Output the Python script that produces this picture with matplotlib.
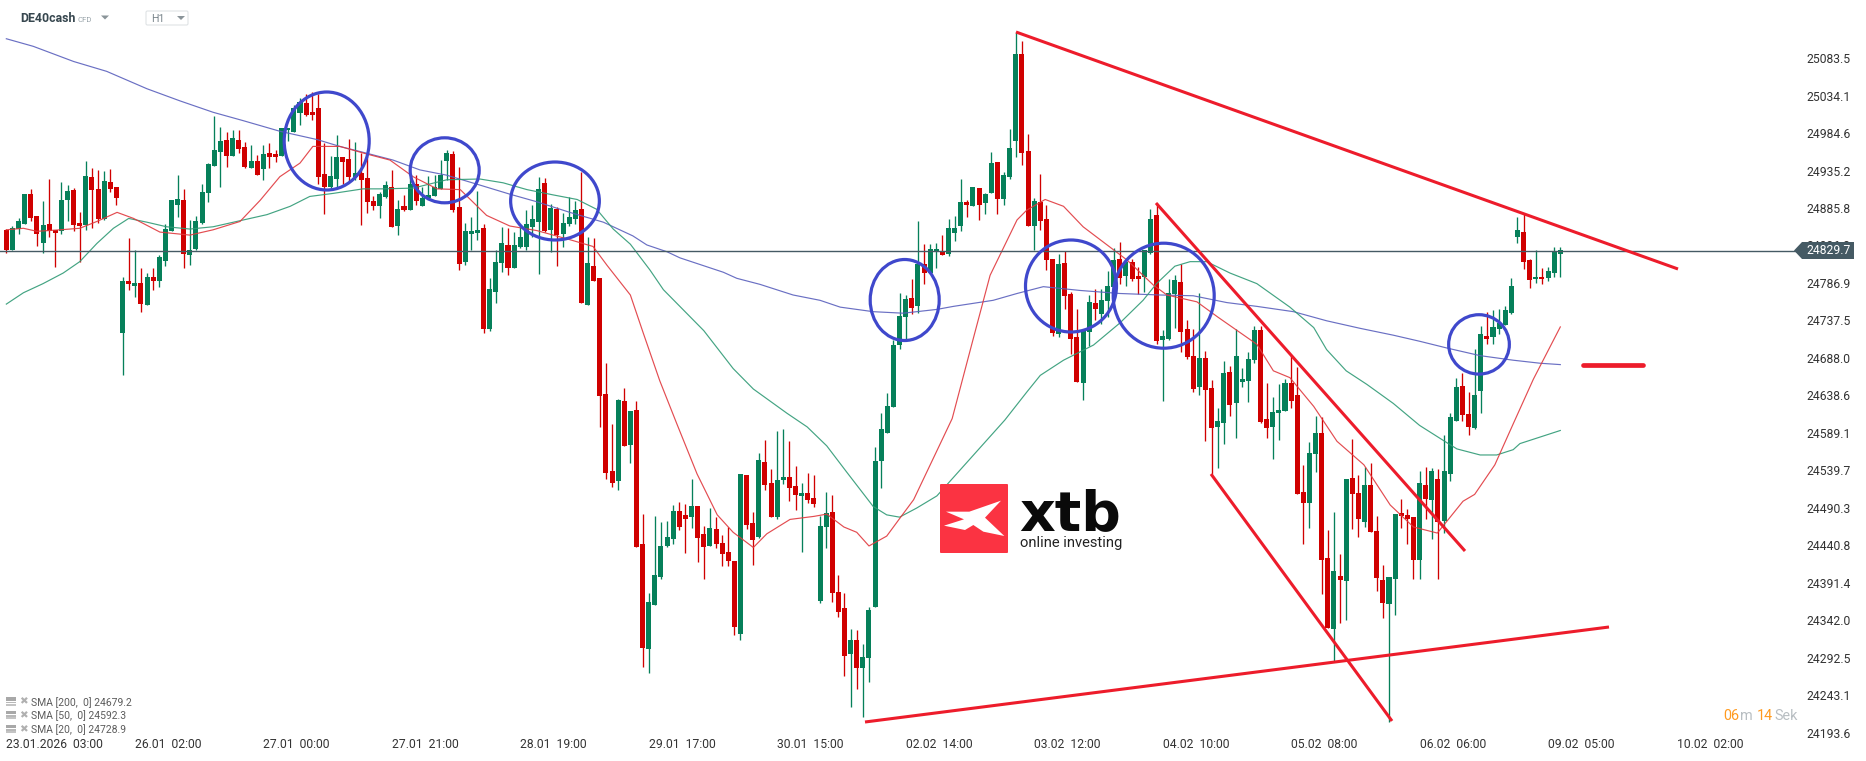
import numpy as np
import matplotlib
matplotlib.use("Agg")
import matplotlib.pyplot as plt
from matplotlib.patches import Ellipse, Polygon, Rectangle, FancyBboxPatch

plt.rcParams["font.family"] = ["Roboto", "DejaVu Sans"]

opens = [
    24857, 24830, 24858, 24865, 24904, 24875, 24839, 24865, 24857, 24855,
    24896, 24910, 24866, 24863, 24927, 24911, 24871, 24920, 24914, 24721,
    24790, 24783, 24787, 24758, 24795, 24790, 24816, 24855, 24890, 24896,
    24824, 24832, 24866, 24906, 24941, 24960, 24976, 24955, 24976, 24966,
    24939, 24948, 24937, 24958, 24957, 24955, 24988, 24986, 25011, 25024,
    25013, 25017, 24931, 24914, 24924, 24953, 24951, 24927, 24932, 24925,
    24895, 24889, 24900, 24914, 24862, 24889, 24883, 24918, 24889, 24899,
    24902, 24911, 24948, 24957, 24887, 24815, 24852, 24853, 24860, 24726,
    24775, 24813, 24837, 24807, 24834, 24834, 24861, 24867, 24919, 24857,
    24885, 24852, 24865, 24871, 24885, 24758, 24809, 24794, 24641, 24539,
    24526, 24631, 24573, 24619, 24443, 24304, 24362, 24399, 24440, 24449,
    24486, 24481, 24478, 24493, 24456, 24440, 24463, 24444, 24432, 24420,
    24324, 24533, 24470, 24452, 24551, 24523, 24478, 24527, 24531, 24519,
    24506, 24510, 24503, 24367, 24465, 24485, 24379, 24358, 24298, 24316,
    24279, 24292, 24359, 24552, 24589, 24623, 24705, 24742, 24767, 24757,
    24812, 24800, 24828, 24829, 24825, 24853, 24862, 24894, 24889, 24912,
    24892, 24906, 24947, 24898, 24927, 24974, 25089, 24961, 24862, 24894,
    24871, 24819, 24720, 24813, 24772, 24716, 24655, 24722, 24760, 24746,
    24763, 24782, 24819, 24796, 24815, 24796, 24795, 24826, 24877, 24712,
    24713, 24772, 24788, 24726, 24691, 24650, 24688, 24648, 24597, 24602,
    24670, 24628, 24656, 24658, 24685, 24725, 24607, 24597, 24616, 24618,
    24655, 24639, 24511, 24497, 24561, 24589, 24424, 24331, 24401, 24394,
    24530, 24510, 24472, 24520, 24460, 24395, 24364, 24396, 24483, 24481,
    24478, 24422, 24520, 24501, 24528, 24473, 24535, 24605, 24651, 24614,
    24596, 24645, 24717, 24715, 24726, 24731, 24747, 24848, 24854, 24817,
    24792, 24795, 24794, 24800, 24825,
]
closes = [
    24830, 24860, 24869, 24904, 24873, 24851, 24863, 24855, 24853, 24896,
    24908, 24863, 24862, 24928, 24909, 24871, 24922, 24911, 24899, 24790,
    24786, 24787, 24759, 24795, 24790, 24821, 24858, 24896, 24898, 24825,
    24831, 24869, 24907, 24944, 24962, 24974, 24955, 24978, 24964, 24940,
    24948, 24929, 24957, 24953, 24953, 24991, 24991, 25017, 25026, 25009,
    25009, 24927, 24914, 24928, 24953, 24947, 24927, 24932, 24923, 24894,
    24889, 24904, 24916, 24861, 24885, 24883, 24918, 24895, 24899, 24903,
    24914, 24929, 24958, 24883, 24812, 24856, 24856, 24857, 24726, 24779,
    24815, 24840, 24807, 24837, 24848, 24865, 24871, 24911, 24856, 24886,
    24850, 24866, 24874, 24883, 24760, 24813, 24790, 24638, 24536, 24523,
    24633, 24572, 24618, 24438, 24305, 24366, 24402, 24440, 24452, 24486,
    24465, 24476, 24493, 24451, 24438, 24464, 24443, 24429, 24420, 24333,
    24535, 24468, 24448, 24553, 24520, 24478, 24527, 24531, 24517, 24507,
    24510, 24501, 24495, 24466, 24483, 24378, 24353, 24295, 24316, 24279,
    24294, 24356, 24552, 24594, 24625, 24705, 24743, 24766, 24754, 24812,
    24800, 24832, 24832, 24824, 24859, 24859, 24894, 24890, 24914, 24890,
    24904, 24945, 24898, 24929, 24965, 25089, 24958, 24862, 24895, 24869,
    24817, 24721, 24812, 24770, 24713, 24656, 24724, 24762, 24753, 24764,
    24783, 24817, 24793, 24815, 24792, 24792, 24830, 24871, 24710, 24717,
    24773, 24791, 24722, 24689, 24647, 24688, 24646, 24596, 24605, 24668,
    24626, 24691, 24660, 24686, 24725, 24603, 24595, 24617, 24619, 24655,
    24631, 24508, 24497, 24562, 24589, 24422, 24332, 24407, 24395, 24528,
    24508, 24476, 24520, 24459, 24398, 24365, 24399, 24482, 24479, 24476,
    24421, 24523, 24502, 24539, 24472, 24539, 24610, 24650, 24613, 24597,
    24639, 24720, 24713, 24729, 24734, 24751, 24783, 24857, 24814, 24791,
    24795, 24792, 24803, 24828, 24830,
]
highs = [
    24858, 24862, 24872, 24904, 24911, 24875, 24895, 24924, 24857, 24920,
    24916, 24912, 24881, 24948, 24938, 24936, 24935, 24937, 24914, 24795,
    24846, 24830, 24807, 24800, 24806, 24824, 24865, 24896, 24929, 24911,
    24870, 24875, 24918, 24945, 25007, 24993, 24986, 24989, 24989, 24973,
    24969, 24956, 24969, 24971, 24962, 24991, 24991, 25021, 25031, 25036,
    25039, 25036, 24971, 24954, 24982, 24953, 24977, 24973, 24958, 24954,
    24901, 24907, 24922, 24936, 24896, 24903, 24927, 24929, 24914, 24928,
    24929, 24949, 24962, 24961, 24940, 24866, 24874, 24908, 24865, 24793,
    24830, 24861, 24859, 24854, 24861, 24883, 24890, 24927, 24925, 24891,
    24887, 24879, 24900, 24895, 24933, 24848, 24846, 24794, 24681, 24601,
    24634, 24648, 24618, 24631, 24482, 24378, 24479, 24472, 24473, 24494,
    24498, 24495, 24528, 24493, 24466, 24490, 24478, 24454, 24465, 24420,
    24535, 24533, 24485, 24562, 24580, 24541, 24592, 24594, 24578, 24546,
    24523, 24536, 24534, 24479, 24511, 24507, 24402, 24378, 24331, 24329,
    24311, 24359, 24571, 24616, 24642, 24712, 24774, 24771, 24792, 24869,
    24838, 24838, 24839, 24850, 24871, 24875, 24924, 24896, 24914, 24912,
    24906, 24960, 24947, 24933, 24990, 25118, 25106, 24984, 24899, 24931,
    24890, 24819, 24825, 24829, 24775, 24753, 24724, 24771, 24779, 24779,
    24803, 24833, 24841, 24817, 24819, 24808, 24830, 24885, 24892, 24725,
    24792, 24798, 24812, 24738, 24726, 24773, 24697, 24659, 24622, 24684,
    24678, 24726, 24675, 24696, 24730, 24730, 24655, 24637, 24654, 24660,
    24692, 24676, 24547, 24577, 24612, 24610, 24461, 24485, 24429, 24528,
    24581, 24533, 24544, 24550, 24480, 24415, 24399, 24482, 24502, 24489,
    24478, 24539, 24544, 24543, 24542, 24586, 24616, 24661, 24668, 24643,
    24700, 24730, 24749, 24751, 24752, 24757, 24794, 24874, 24878, 24818,
    24830, 24807, 24808, 24834, 24834,
]
lows = [
    24826, 24830, 24852, 24865, 24868, 24835, 24826, 24848, 24808, 24852,
    24868, 24855, 24815, 24857, 24860, 24866, 24870, 24907, 24890, 24665,
    24778, 24768, 24749, 24758, 24778, 24781, 24809, 24855, 24874, 24806,
    24811, 24830, 24865, 24894, 24941, 24914, 24940, 24954, 24958, 24939,
    24939, 24929, 24923, 24938, 24946, 24954, 24974, 24986, 24995, 25007,
    25002, 24918, 24878, 24912, 24912, 24918, 24921, 24923, 24863, 24879,
    24883, 24873, 24899, 24861, 24850, 24882, 24883, 24890, 24889, 24899,
    24901, 24911, 24923, 24881, 24804, 24811, 24830, 24844, 24721, 24724,
    24761, 24801, 24798, 24807, 24833, 24830, 24848, 24799, 24854, 24828,
    24809, 24834, 24862, 24865, 24760, 24758, 24790, 24597, 24528, 24518,
    24514, 24572, 24549, 24438, 24280, 24273, 24362, 24396, 24438, 24443,
    24461, 24431, 24464, 24419, 24397, 24440, 24437, 24414, 24414, 24322,
    24316, 24462, 24415, 24451, 24514, 24478, 24475, 24522, 24499, 24488,
    24432, 24497, 24492, 24365, 24437, 24366, 24346, 24269, 24228, 24251,
    24215, 24260, 24359, 24517, 24589, 24623, 24700, 24711, 24746, 24747,
    24786, 24800, 24806, 24824, 24822, 24842, 24855, 24874, 24889, 24870,
    24878, 24906, 24878, 24890, 24924, 24953, 24943, 24862, 24830, 24857,
    24804, 24717, 24715, 24752, 24693, 24656, 24632, 24704, 24738, 24733,
    24742, 24769, 24786, 24783, 24789, 24772, 24775, 24825, 24707, 24631,
    24712, 24727, 24696, 24687, 24643, 24639, 24578, 24535, 24543, 24574,
    24612, 24583, 24650, 24630, 24681, 24602, 24582, 24555, 24580, 24618,
    24622, 24508, 24443, 24464, 24537, 24377, 24332, 24288, 24338, 24342,
    24463, 24452, 24465, 24458, 24380, 24345, 24208, 24349, 24464, 24442,
    24396, 24397, 24476, 24449, 24397, 24457, 24526, 24605, 24605, 24587,
    24594, 24616, 24706, 24707, 24719, 24731, 24746, 24840, 24805, 24780,
    24787, 24786, 24790, 24795, 24795,
]

# moving averages at these candle positions
sma200_pos = [0, 4.4, 11, 16.4, 23, 28.4, 33.8, 38.7, 44.7, 50.8, 54.5, 58.9, 63.2, 67.6, 72, 77.4,
              82.3, 86.7, 92.1, 97.6, 102.4, 104.7, 108, 110.1, 117.2, 119.4, 123.2, 128.6, 133, 136.3,
              141.7, 146.6, 152.1, 154.8, 161.3, 165.2, 169.5, 175.5, 182, 188.6, 194, 199.5, 204.4,
              210.4, 215.8, 221.3, 226.7, 231, 235.5, 240.9, 246.3, 250.7, 254]
sma200_val = [25109, 25099, 25079, 25066, 25043, 25027, 25012, 25001, 24987, 24976, 24967, 24958, 24949, 24936, 24929, 24916,
              24904, 24894, 24880, 24867, 24849, 24837, 24828, 24820, 24801, 24793, 24785, 24771, 24764, 24755,
              24749, 24747, 24752, 24756, 24764, 24773, 24782, 24777, 24773, 24771, 24770, 24761, 24756,
              24749, 24737, 24727, 24718, 24710, 24701, 24691, 24685, 24681, 24679.2]

sma50_pos = [0, 2.8, 6, 9.3, 12, 14.8, 17.5, 20, 23, 26.2, 30, 33.8, 38.2, 42.6, 46.4, 49.6, 53.4, 58.3, 61.6, 66.5,
             72, 77.4, 81.2, 85.1, 89.4, 93.3, 96.5, 99.2, 102, 105.2, 107.4, 114, 118.8, 122.1, 127.6, 130.9,
             134.1, 137.4, 141.7, 143.9, 146, 148.8, 152.1, 163.2, 166.8, 169, 172.8, 177.7, 182, 185.8, 188,
             191, 193.5, 196.2, 200, 204.4, 209.8, 213.7, 215.8, 219, 222.4, 226.7, 231, 235.5, 237.1, 240.9,
             243.6, 246.3, 247.4, 254]
sma50_val = [24759, 24774, 24786, 24800, 24815, 24839, 24859, 24872, 24867, 24861, 24858, 24861, 24869, 24877, 24888, 24901, 24905, 24911, 24911, 24912,
             24923, 24924, 24919, 24910, 24903, 24897, 24884, 24858, 24838, 24804, 24778, 24724, 24674, 24647, 24615, 24597,
             24572, 24537, 24492, 24481, 24478, 24490, 24506, 24606, 24643, 24665, 24685, 24705, 24734, 24764, 24786,
             24809, 24815, 24815, 24800, 24786, 24755, 24728, 24699, 24671, 24653, 24628, 24599, 24576, 24568, 24560,
             24560, 24567, 24575, 24592.3]

sma20_pos = [0, 2.8, 5, 8.8, 12, 14.8, 18.1, 20.8, 25.1, 30, 33.8, 38.2, 41.5, 44.7, 48, 50.1, 54.5, 58.9, 62.7, 66.5,
             70.4, 74.2, 78.5, 82.3, 86.7, 92.1, 95.9, 98.2, 102, 104.1, 106.8, 109.6, 112.9, 116.2, 118.8, 122.1,
             124.3, 128.1, 132, 134.1, 136.9, 139, 141, 143.9, 146, 148.3, 152.6, 154.6, 158, 160.8, 165.2, 166.8,
             169.8, 172.8, 176, 183.2, 187.5, 189.7, 194.6, 198, 204.4, 207.1, 209.8, 213.7, 217.5, 221.9, 226.2,
             230, 233.9, 238.1, 240, 243.3, 246.3, 249.6, 254]
sma20_val = [24857, 24859, 24855, 24857, 24859, 24868, 24880, 24872, 24854, 24850, 24857, 24868, 24896, 24927, 24945, 24967, 24967, 24957, 24949, 24927,
             24911, 24910, 24876, 24862, 24856, 24844, 24835, 24810, 24771, 24721, 24658, 24601, 24535, 24481, 24458, 24438,
             24456, 24475, 24479, 24482, 24465, 24458, 24440, 24453, 24476, 24501, 24574, 24608, 24712, 24797, 24870, 24883,
             24897, 24888, 24861, 24817, 24784, 24771, 24762, 24742, 24706, 24671, 24662, 24624, 24578, 24547, 24494,
             24465, 24457, 24499, 24508, 24547, 24601, 24660, 24728.9]

last_price = 24829.7
price_ticks = [25083.5, 25034.1, 24984.6, 24935.2, 24885.8, 24836.3, 24786.9, 24737.5, 24688.0, 24638.6,
               24589.1, 24539.7, 24490.3, 24440.8, 24391.4, 24342.0, 24292.5, 24243.1, 24193.6]
time_labels = ["23.01.2026  03:00", "26.01  02:00", "27.01  00:00", "27.01  21:00", "28.01  19:00",
               "29.01  17:00", "30.01  15:00", "02.02  14:00", "03.02  12:00", "04.02  10:00",
               "05.02  08:00", "06.02  06:00", "09.02  05:00", "10.02  02:00"]
legend_labels = ["SMA [200,  0] 24679.2", "SMA [50,  0] 24592.3", "SMA [20,  0] 24728.9"]

W, H = 1866, 761
RED = "#d00000"
GREEN = "#06805a"
LINE_RED = "#ed1c2b"
CIRCLE = "#3f48cc"
TAG = "#455a64"

fig = plt.figure(figsize=(W / 100, H / 100), dpi=100, facecolor="white")

# price axes, the plot area stops at x=1800 and y=735
ax = fig.add_axes([0, 1 - 735 / H, 1800 / W, 735 / H])
ax.set_xlim(-6.33 / 6.118, (1800 - 6.33) / 6.118)
ax.set_ylim(24829.7 + (250.5 - 735) * 1.319, 24829.7 + 250.5 * 1.319)

o = np.array(opens, dtype=float)
c = np.array(closes, dtype=float)
hi = np.array(highs, dtype=float)
lo = np.array(lows, dtype=float)
x = np.arange(len(o))
cols = np.where(c >= o, GREEN, RED)

ax.vlines(x, lo, hi, colors=cols, linewidth=0.95, zorder=2)
ax.bar(x, np.abs(c - o), bottom=np.minimum(o, c), width=0.82, color=cols, linewidth=0, zorder=3)

ax.plot(sma200_pos, sma200_val, color="#5a60bd", lw=0.85, alpha=0.9, zorder=4)
ax.plot(sma50_pos, sma50_val, color="#2f9a75", lw=0.85, alpha=0.9, zorder=4)
ax.plot(sma20_pos, sma20_val, color="#e0393e", lw=0.85, alpha=0.9, zorder=4)
ax.axhline(last_price, color=TAG, lw=1.0, zorder=5)

for s in ax.spines.values():
    s.set_visible(False)
ax.yaxis.tick_right()
ax.set_yticks(price_ticks)
ax.set_yticklabels([f"{p:.1f}" for p in price_ticks], fontsize=8.7, color="#333333")
ax.tick_params(axis="y", length=0, pad=4.3)
ax.set_xticks(np.arange(len(time_labels)) * 21)
ax.set_xticklabels(time_labels, fontsize=8.7, color="#333333", ha="left")
ax.tick_params(axis="x", length=0, pad=2.2)

# overlay in pixel coordinates for drawings, logo and header
ov = fig.add_axes([0, 0, 1, 1], facecolor="none")
ov.set_xlim(0, W)
ov.set_ylim(H, 0)
ov.axis("off")

trend_lines = [
    ((1016, 32), (1678, 269)),
    ((865, 722), (1609, 627)),
    ((1156, 203), (1465, 551)),
    ((1211, 474), (1392, 721)),
]
for a, b in trend_lines:
    ov.plot([a[0], b[0]], [a[1], b[1]], color=LINE_RED, lw=2.2, solid_capstyle="butt", zorder=6)
ov.plot([1583, 1643], [365, 365], color=LINE_RED, lw=3.4, solid_capstyle="round", zorder=6)

circles = [
    (326.7, 141, 85, 98), (444.7, 170.3, 69, 65), (555, 201, 88.7, 78), (904.7, 300, 69, 81),
    (1071, 286, 91, 92), (1163.7, 295.7, 101, 105), (1479, 344.4, 60.7, 59.4),
]
for cx, cy, w, h in circles:
    ov.add_patch(Ellipse((cx, cy), w, h, fill=False, ec=CIRCLE, lw=2.3, zorder=7))

# last price tag
ov.add_patch(Polygon([(1794, 250.5), (1802, 242), (1854, 242), (1854, 259), (1802, 259)], closed=True,
                     fc=TAG, ec="none", zorder=8))
ov.text(1806, 251, f"{last_price:.1f}", color="white", fontsize=8.7, va="center", ha="left", zorder=9)

# header
ov.text(20, 19, "DE40cash", fontsize=8.9, fontweight="bold", color="#37474f", va="center")
ov.text(78, 19.5, "CFD", fontsize=5.6, color="#9aa5ab", va="center")
ov.add_patch(Polygon([(101, 15.5), (109, 15.5), (105, 19.5)], closed=True, fc="#8a9499", ec="none"))
ov.add_patch(FancyBboxPatch((146, 11), 42, 14, boxstyle="round,pad=0,rounding_size=1.5", fc="white", ec="#dfe3e5", lw=0.8))
ov.text(151, 19.5, "H1", fontsize=7.6, color="#78848a", va="center")
ov.add_patch(Polygon([(177, 16), (185, 16), (181, 20)], closed=True, fc="#8a9499", ec="none"))

# indicator legend
for ly, label in zip([701.7, 715, 729], legend_labels):
    ov.add_patch(Rectangle((6, ly - 4.5), 10, 3.5, fc="#a8a8a8", ec="none"))
    ov.add_patch(Rectangle((6, ly), 10, 1.6, fc="#b8b8b8", ec="none"))
    ov.add_patch(Rectangle((6, ly + 2.4), 10, 1.4, fc="#c4c4c4", ec="none"))
    ov.text(23, ly, "\u2716", fontsize=7.5, color="#b0b0b0", va="center", ha="center", family="DejaVu Sans")
    ov.text(31, ly + 0.5, label, fontsize=7.5, color="#5c5c5c", va="center")

# countdown
ov.text(1723, 716, "06", fontsize=10.4, color="#ff9a1f", va="center")
ov.text(1740, 716, "m", fontsize=10.4, color="#b8bec2", va="center")
ov.text(1757, 716, "14", fontsize=10.4, color="#ff9a1f", va="center")
ov.text(1774, 716, "Sek", fontsize=10.4, color="#b8bec2", va="center")

# logo
ov.add_patch(FancyBboxPatch((940, 484), 68, 69, boxstyle="round,pad=0,rounding_size=1", fc="#fb3342", ec="none", zorder=6))
logo_x = [(243, 92), (195, 143), (253, 198), (190, 185), (160, 165), (135, 180), (72, 167), (132, 148), (78, 125), (148, 125)]
ov.add_patch(Polygon([(920 + a / 3, 470 + b / 3) for a, b in logo_x], closed=True, fc="white", ec="none", zorder=7))
ov.text(1019, 530, "xtb", fontsize=40, fontweight="bold", family="DejaVu Sans", color="#0a0a0a", va="baseline", ha="left", zorder=7)
ov.text(1020, 543, "online investing", fontsize=10.6, color="#222222", va="center", ha="left", zorder=7)

fig.savefig("out.png", dpi=100)
